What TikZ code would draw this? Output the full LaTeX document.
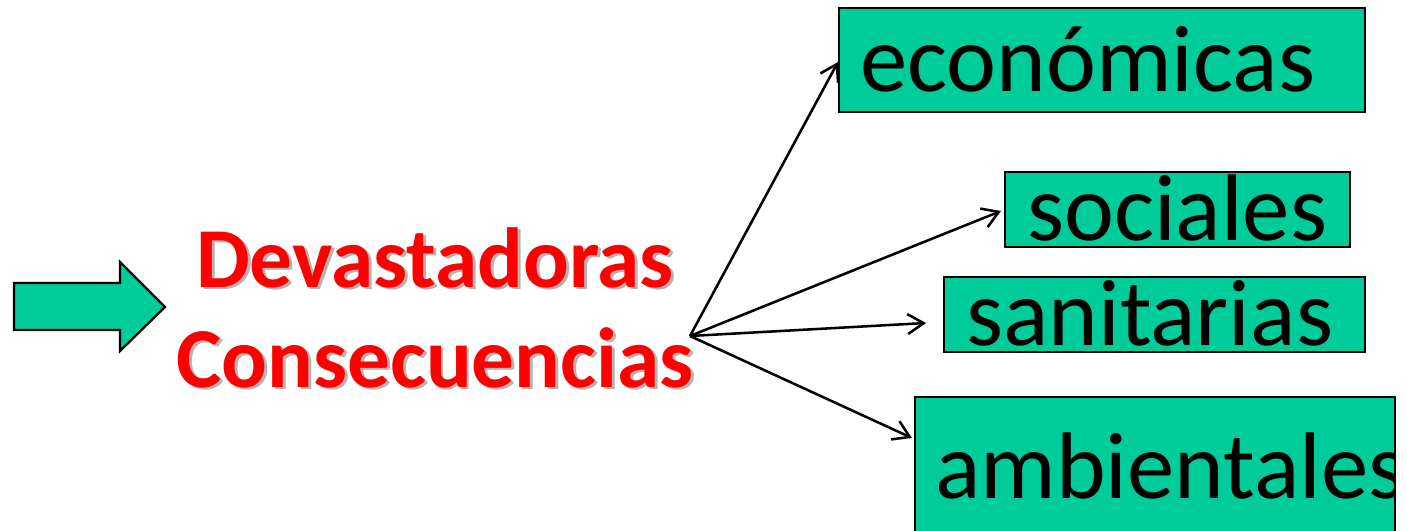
\documentclass[tikz,border=0pt]{standalone}
\usepackage{fontspec}
\setmainfont{Carlito}
\usetikzlibrary{arrows.meta}
\definecolor{boxgreen}{RGB}{0,204,153}
\definecolor{shadowgray}{RGB}{180,180,180}
\newcommand{\shadowed}[1]{\rlap{\kern2.2pt\raisebox{-2.2pt}{\color{shadowgray}#1}}#1}
\tikzset{
  greenbox/.style={draw=black, line width=1.6pt, fill=boxgreen},
  boxtext/.style={anchor=base west, inner sep=0pt, font=\fontsize{71}{80}\selectfont, text=black},
  titletext/.style={anchor=base, inner sep=0pt, font=\fontsize{64}{72}\selectfont\bfseries, text=red},
  conn/.style={draw=black, line width=1.9pt, -{Straight Barb[length=12pt,width=15pt,line width=1.9pt]}}
}
\begin{document}
\begin{tikzpicture}[x=0.75pt,y=-0.75pt]
\clip (0,0) rectangle (1407,531);
\useasboundingbox (0,0) rectangle (1407,531);
% left block arrow
\draw[line width=1.7pt, fill=boxgreen, line join=miter]
  (14,283) -- (120,283) -- (120,262) -- (165,307) -- (120,351) -- (120,330) -- (14,330) -- cycle;
% title with shadow
\node[titletext] (dev) at (435,287) {\shadowed{Devastadoras}};
\node[titletext] (con) at (435,387) {\shadowed{Consecuencias}};
% boxes
\path[greenbox] (839,8) rectangle (1365,112);
\node[boxtext] (eco) at (860,92) {económicas};
\path[greenbox] (1005,172) rectangle (1350,247);
\node[boxtext] (soc) at (1027,241) {sociales};
\path[greenbox] (944,277) rectangle (1365,352);
\node[boxtext] (san) at (966,345) {sanitarias};
\path[greenbox] (915,397) rectangle (1395,560);
\begin{scope}
\clip (915,397) rectangle (1394,560);
\node[boxtext] (amb) at (935,498) {ambientales};
\end{scope}
% connectors
\coordinate (src) at (690,336);
\coordinate (tEco) at (838,62);
\coordinate (tSoc) at (1001,211);
\coordinate (tSan) at (926,323);
\coordinate (tAmb) at (912,438);
\draw[conn] (src) -- (tEco);
\draw[conn] (src) -- (tSoc);
\draw[conn] (src) -- (tSan);
\draw[conn] (src) -- (tAmb);
\end{tikzpicture}
\end{document}
